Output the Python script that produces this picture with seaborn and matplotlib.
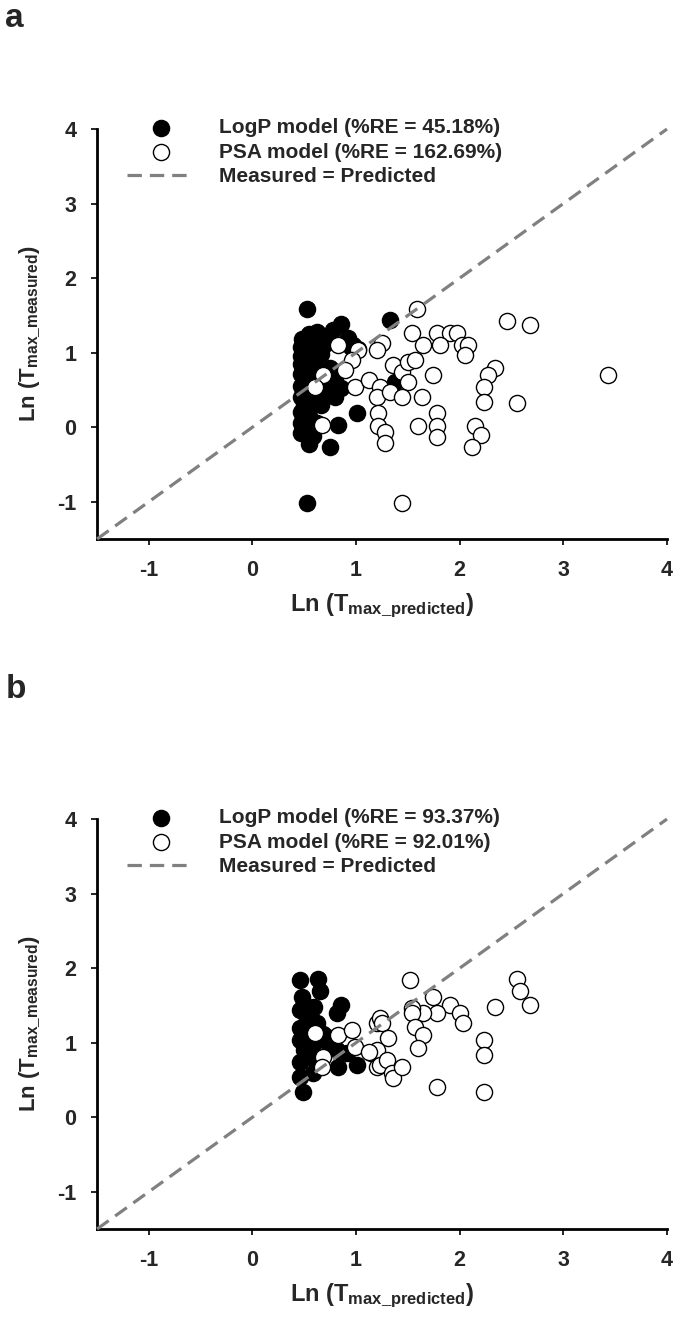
#Tmax measured vs predicted scatter (two panels)
import numpy as np
import pandas as pd
import matplotlib
matplotlib.use("Agg")
import matplotlib.pyplot as plt
import seaborn as sns

# --- data ---
axis_lims = [-1.5, 4]
tick_vals = [-1, 0, 1, 2, 3, 4]

# panel a
logp_a_x = [0.53, 1.33, 0.85, 0.78, 0.62, 0.55, 0.48, 0.60, 0.70, 0.95, 1.02, 0.47, 0.52, 0.58, 0.66,
            0.47, 0.55, 0.47, 0.60, 0.75, 0.50, 0.47, 0.58, 0.68, 0.80, 1.38, 0.50, 0.47, 0.62, 0.85,
            0.55, 0.72, 0.47, 0.60, 0.50, 0.66, 0.47, 1.01, 0.55, 0.47, 0.62, 0.83, 0.52, 0.47, 0.58,
            0.55, 0.75, 0.53, 0.92, 0.72, 0.97, 0.80]
logp_a_y = [1.59, 1.44, 1.38, 1.30, 1.28, 1.25, 1.18, 1.15, 1.12, 1.08, 1.05, 1.08, 1.02, 1.00, 0.98,
            0.95, 0.90, 0.85, 0.85, 0.80, 0.78, 0.72, 0.70, 0.65, 0.62, 0.61, 0.60, 0.55, 0.55, 0.52,
            0.45, 0.45, 0.40, 0.35, 0.30, 0.30, 0.20, 0.19, 0.15, 0.05, 0.05, 0.03, -0.02, -0.08, -0.12,
            -0.22, -0.27, -1.02, 1.20, 1.22, 1.10, 0.41]
psa_a_x = [1.59, 1.54, 1.78, 1.91, 1.97, 1.65, 1.81, 2.02, 2.08, 2.05, 1.25, 1.20, 0.83, 1.02, 0.96,
           0.89, 0.68, 0.60, 0.99, 1.12, 1.23, 1.20, 1.36, 1.44, 1.50, 1.57, 1.50, 1.33, 1.44, 1.74,
           1.64, 1.21, 1.21, 1.28, 1.28, 0.67, 1.60, 1.78, 1.78, 1.78, 1.44, 2.46, 2.68, 2.34, 2.27,
           2.23, 2.23, 2.55, 3.43, 2.15, 2.21, 2.12]
psa_a_y = [1.59, 1.26, 1.26, 1.27, 1.27, 1.10, 1.10, 1.10, 1.10, 0.97, 1.13, 1.03, 1.10, 1.03, 0.90,
           0.77, 0.70, 0.54, 0.54, 0.63, 0.54, 0.41, 0.83, 0.74, 0.87, 0.90, 0.61, 0.47, 0.41, 0.70,
           0.41, 0.19, 0.01, -0.07, -0.21, 0.03, 0.01, 0.19, 0.01, -0.13, -1.01, 1.43, 1.37, 0.79, 0.70,
           0.54, 0.34, 0.32, 0.70, 0.01, -0.10, -0.27]

# panel b
logp_b_x = [0.46, 0.63, 0.65, 0.48, 0.85, 0.82, 0.46, 0.59, 0.53, 0.62, 0.46, 0.55, 0.68, 0.46, 0.59,
            0.72, 0.50, 0.82, 0.91, 0.46, 0.56, 0.65, 0.83, 1.01, 0.46, 0.58, 0.49, 0.50, 0.56, 0.75]
logp_b_y = [1.84, 1.86, 1.70, 1.61, 1.50, 1.40, 1.44, 1.48, 1.30, 1.26, 1.20, 1.15, 1.12, 1.03, 0.99,
            1.07, 0.90, 0.90, 0.86, 0.74, 0.81, 0.75, 0.67, 0.70, 0.54, 0.60, 0.34, 1.52, 1.38, 0.95]
psa_b_x = [0.60, 0.83, 0.96, 0.99, 0.68, 0.67, 1.14, 1.20, 1.20, 1.52, 1.74, 1.91, 2.00, 2.03, 1.78,
           1.65, 1.54, 1.54, 1.57, 1.65, 1.60, 1.23, 1.25, 1.31, 1.20, 1.12, 1.23, 1.30, 1.35, 1.36,
           1.44, 2.23, 2.23, 2.34, 2.55, 2.58, 2.68, 1.78, 2.23]
psa_b_y = [1.13, 1.10, 1.17, 0.94, 0.81, 0.67, 0.86, 1.27, 0.67, 1.84, 1.61, 1.50, 1.40, 1.26, 1.40,
           1.40, 1.46, 1.40, 1.21, 1.10, 0.93, 1.33, 1.26, 1.06, 0.90, 0.87, 0.70, 0.77, 0.59, 0.52,
           0.67, 1.03, 0.83, 1.48, 1.86, 1.70, 1.50, 0.40, 0.34]

panels = [
    ("a", logp_a_x, logp_a_y, psa_a_x, psa_a_y, "LogP model (%RE = 45.18%)", "PSA model (%RE = 162.69%)"),
    ("b", logp_b_x, logp_b_y, psa_b_x, psa_b_y, "LogP model (%RE = 93.37%)", "PSA model (%RE = 92.01%)"),
]

sns.set_theme(style="white")
plt.rcParams['font.family'] = ['Liberation Sans', 'DejaVu Sans']
plt.rcParams['font.weight'] = 'bold'
plt.rcParams['axes.unicode_minus'] = False
plt.rcParams['mathtext.fontset'] = 'custom'
plt.rcParams['mathtext.rm'] = 'Liberation Sans:bold'
plt.rcParams['mathtext.bf'] = 'Liberation Sans:bold'
plt.rcParams['mathtext.it'] = 'Liberation Sans:bold'

fig = plt.figure(figsize=(6.75, 13.29), dpi=100)
ax_rects = [[0.1437, 0.5944, 0.8444, 0.3085], [0.1437, 0.0752, 0.8444, 0.3085]]
letter_y = [0.986, 0.481]

for (tag, lx, ly, px, py, lab_logp, lab_psa), rect, ly_txt in zip(panels, ax_rects, letter_y):
    ax = fig.add_axes(rect)
    df_l = pd.DataFrame({'pred': lx, 'meas': ly})
    df_p = pd.DataFrame({'pred': px, 'meas': py})
    sns.scatterplot(data=df_l, x='pred', y='meas', ax=ax, color='black', edgecolor='black',
                    s=135, linewidth=1.0, label=lab_logp, zorder=3)
    sns.scatterplot(data=df_p, x='pred', y='meas', ax=ax, color='white', edgecolor='black',
                    s=135, linewidth=1.0, label=lab_psa, zorder=4)
    ax.plot(axis_lims, axis_lims, color='#808080', lw=2.3, dashes=(4.5, 2.5),
            label='Measured = Predicted', zorder=5, clip_on=False)

    ax.set_xlim(axis_lims)
    ax.set_ylim(axis_lims)
    ax.set_xticks(tick_vals)
    ax.set_yticks(tick_vals)
    ax.tick_params(axis='both', direction='out', length=4, width=1.2, color='black',
                   labelsize=15.5, pad=11, left=True, bottom=True)
    for lab in ax.get_xticklabels() + ax.get_yticklabels():
        lab.set_fontweight('bold')
    for side in ['top', 'right']:
        ax.spines[side].set_visible(False)
    for side in ['left', 'bottom']:
        ax.spines[side].set_linewidth(2.0)
        ax.spines[side].set_color('black')

    ax.set_xlabel(r'Ln (T$_\mathregular{max\_predicted}$)', fontsize=17, fontweight='bold', labelpad=8)
    ax.set_ylabel(r'Ln (T$_\mathregular{max\_measured}$)', fontsize=16, fontweight='bold', labelpad=10)

    leg = ax.legend(loc='upper left', bbox_to_anchor=(0.053, 1.026), frameon=False,
                    fontsize=15, handlelength=3.2, handletextpad=1.2, labelspacing=0.25,
                    borderpad=0.0, borderaxespad=0.0, markerscale=1.0)
    for t in leg.get_texts():
        t.set_fontweight('bold')

    fig.text(0.008, ly_txt, tag, fontsize=24, fontweight='bold', va='center', ha='left')

plt.savefig('out.png', dpi=100)
